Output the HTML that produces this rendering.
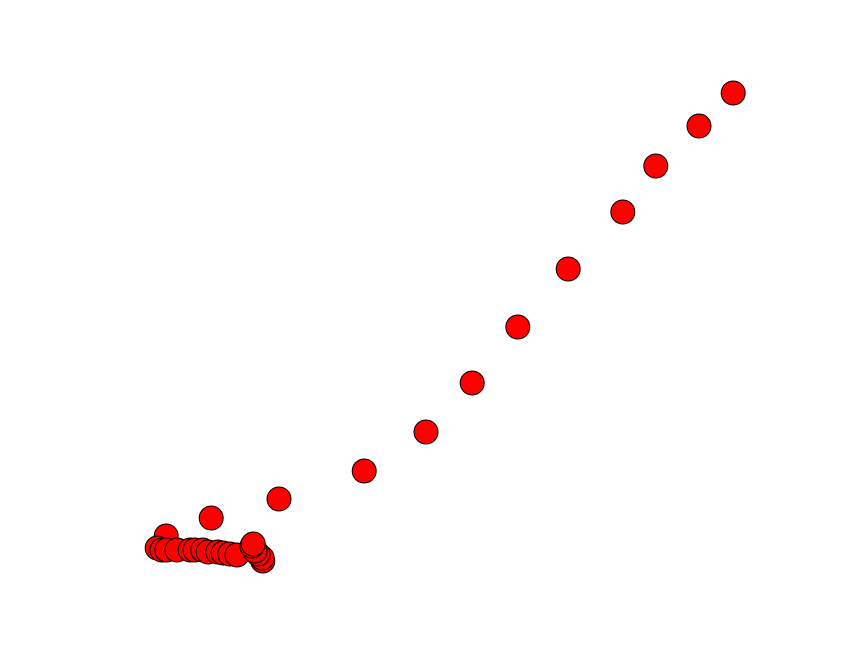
<!DOCTYPE html>
<html><head><meta charset="utf-8"><style>html,body{margin:0;background:#fff;}svg{display:block}</style></head>
<body>
<svg id="chart" width="861" height="652" xmlns="http://www.w3.org/2000/svg"></svg>
<script>
const xValues = [97.2,91.5,84.3,78.8,69.7,61.3,53.7,46,35.7,21.5,10.2,2.7,1.2,2,2.8,4.5,6.7,7.5,8.8,9.7,11.3,12.2,13.3,14.5,18.8,18.7,18,17.5,17,17.2];
const yValues = [93.6,87,79,69.8,58.4,46.8,35.6,25.8,18,12.4,8.6,5,2.6,2.2,2.2,2.2,2.2,2.2,2.2,1.8,1.8,1.6,1.4,1.2,0,0.6,1.4,2,3,3.4];
function xs(v){return 150+v*6;}
function ys(v){return 561-v*5;}
const svg=document.getElementById('chart');
for(let i=0;i<xValues.length;i++){
  const c=document.createElementNS('http://www.w3.org/2000/svg','circle');
  c.setAttribute('cx',xs(xValues[i]));
  c.setAttribute('cy',ys(yValues[i]));
  c.setAttribute('r',12);
  c.setAttribute('fill','#ff0000');
  c.setAttribute('stroke','#000');
  c.setAttribute('stroke-width','1');
  
  
  svg.appendChild(c);
}
</script>
</body></html>
